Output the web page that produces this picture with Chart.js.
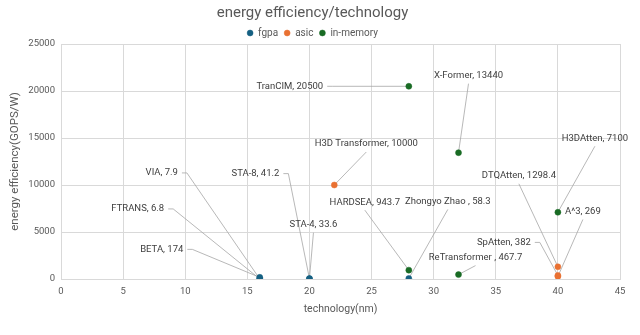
<!DOCTYPE html>
<html><head><meta charset="utf-8">
<script src="https://cdn.jsdelivr.net/npm/chart.js@4.4.1/dist/chart.umd.min.js"></script>
<style>html,body{margin:0;padding:0;background:#fff}</style>
</head><body>
<canvas id="c" width="640" height="335"></canvas>
<script>
// ---- data ----
const chartTitle = 'energy efficiency/technology';
const xTitle = 'technology(nm)';
const yTitle = 'energy efficiency(GOPS/W)';
const seriesNames = ['fgpa', 'asic', 'in-memory'];

const fgpaNames = ['VIA', 'FTRANS', 'BETA', 'STA-8', 'STA-4', 'Zhongyo Zhao '];
const fgpaX = [16, 16, 16, 20, 20, 28];
const fgpaY = [7.9, 6.8, 174, 41.2, 33.6, 58.3];

const asicNames = ['H3D Transformer', 'DTQAtten', 'SpAtten', 'A^3'];
const asicX = [22, 40, 40, 40];
const asicY = [10000, 1298.4, 382, 269];

const memNames = ['TranCIM', 'X-Former', 'HARDSEA', 'ReTransformer ', 'H3DAtten'];
const memX = [28, 32, 28, 32, 40];
const memY = [20500, 13440, 943.7, 467.7, 7100];

const xTicks = [0, 5, 10, 15, 20, 25, 30, 35, 40, 45];
const yTicks = [0, 5000, 10000, 15000, 20000, 25000];

// ---- styling (label placement offsets in px relative to the point, and leader style) ----
const fgpaLabelOff = [[-98, -106, 's'], [-122, -70, 's'], [-98, -28, 's'], [-54, -105, 's'], [4, -54, 'b'], [39, -77, 'b']];
const asicLabelOff = [[32, -41, 'b'], [-39, -91, 'b'], [-54, -33, 's'], [25, -65, 'b']];
const memLabelOff = [[-119, 0, 's'], [10, -77, 'b'], [-44, -68, 'b'], [17, -17, 'b'], [37, -74, 'b']];

const colors = ['#156082', '#E97132', '#196B24'];
const FONT = "Roboto, 'Liberation Sans', sans-serif";
const LABEL_FONT = '9.5px ' + FONT;

function mk(xs, ys, names) {
  return xs.map((x, i) => ({ x: x, y: ys[i], name: names[i] }));
}
const allOffs = [fgpaLabelOff, asicLabelOff, memLabelOff];

const datasets = [
  { label: seriesNames[0], data: mk(fgpaX, fgpaY, fgpaNames) },
  { label: seriesNames[1], data: mk(asicX, asicY, asicNames) },
  { label: seriesNames[2], data: mk(memX, memY, memNames) }
].map((d, i) => Object.assign(d, {
  backgroundColor: colors[i], borderColor: colors[i], pointRadius: 3, pointBorderWidth: 0.5,
  pointStyle: 'circle', showLine: false
}));

const labelPlugin = {
  id: 'dlabels',
  beforeLayout(chart) {
    const lg = chart.legend;
    if (lg && !lg._wrapped) {
      const f = lg.fit.bind(lg);
      lg.fit = function () { f(); this.height = 22; };
      lg._wrapped = true;
    }
  },
  _items(chart) {
    const ctx = chart.ctx;
    ctx.font = LABEL_FONT;
    const items = [];
    chart.data.datasets.forEach((ds, di) => {
      const meta = chart.getDatasetMeta(di);
      meta.data.forEach((el, i) => {
        const off = allOffs[di][i];
        const txt = ds.data[i].name + ', ' + String(ds.data[i].y);
        const w = ctx.measureText(txt).width;
        items.push({ px: el.x, py: el.y, cx: el.x + off[0], cy: el.y + off[1], mode: off[2], txt, w });
      });
    });
    return items;
  },
  beforeDatasetsDraw(chart) {
    const ctx = chart.ctx;
    ctx.save();
    const items = this._items(chart);
    ctx.strokeStyle = '#a6a6a6';
    ctx.lineWidth = 0.8;
    items.forEach(it => {
      ctx.beginPath();
      if (it.mode === 's') {
        const sx = it.cx + it.w / 2 + 4;
        ctx.moveTo(sx, it.cy);
        ctx.lineTo(sx + 5, it.cy);
      } else {
        ctx.moveTo(it.cx, it.cy + 8);
      }
      ctx.lineTo(it.px, it.py);
      ctx.stroke();
    });
    ctx.restore();
  },
  afterDatasetsDraw(chart) {
    const ctx = chart.ctx;
    ctx.save();
    const items = this._items(chart);
    ctx.fillStyle = '#404040';
    ctx.textAlign = 'center';
    ctx.textBaseline = 'middle';
    ctx.font = LABEL_FONT;
    items.forEach(it => ctx.fillText(it.txt, it.cx, it.cy));
    ctx.restore();
  }
};

new Chart(document.getElementById('c'), {
  type: 'scatter',
  data: { datasets },
  plugins: [labelPlugin],
  options: {
    responsive: false,
    animation: false,
    devicePixelRatio: 1,
    layout: { padding: { left: 5, right: 20, top: 0, bottom: 19 } },
    plugins: {
      title: { display: true, text: chartTitle, color: '#595959', font: { family: FONT, size: 15, weight: 'normal' }, padding: { top: 4, bottom: 0 } },
      legend: {
        display: true, position: 'top',
        labels: { usePointStyle: true, pointStyle: 'circle', boxWidth: 6, boxHeight: 4.2, padding: 6, color: '#595959', font: { family: FONT, size: 10 } }
      },
      tooltip: { enabled: false }
    },
    scales: {
      x: {
        type: 'linear', min: 0, max: 45,
        afterBuildTicks: s => { s.ticks = xTicks.map(v => ({ value: v })); },
        afterFit: s => { s.height = 37; },
        grid: { color: '#d9d9d9', drawTicks: false },
        border: { color: '#d9d9d9' },
        ticks: { padding: 7, color: '#595959', font: { family: FONT, size: 9.5 }, callback: v => String(v) },
        title: { display: true, text: xTitle, color: '#595959', font: { family: FONT, size: 10.5 }, padding: 0 }
      },
      y: {
        type: 'linear', min: 0, max: 25000,
        afterBuildTicks: s => { s.ticks = yTicks.map(v => ({ value: v })); },
        afterFit: s => { s.width = 56; },
        grid: { color: '#d9d9d9', drawTicks: false },
        border: { color: '#d9d9d9' },
        ticks: { padding: 6, color: '#595959', font: { family: FONT, size: 9.5 }, callback: v => String(v) },
        title: { display: true, text: yTitle, color: '#595959', font: { family: FONT, size: 11.5 }, padding: 3 }
      }
    }
  }
});
</script>
</body></html>
